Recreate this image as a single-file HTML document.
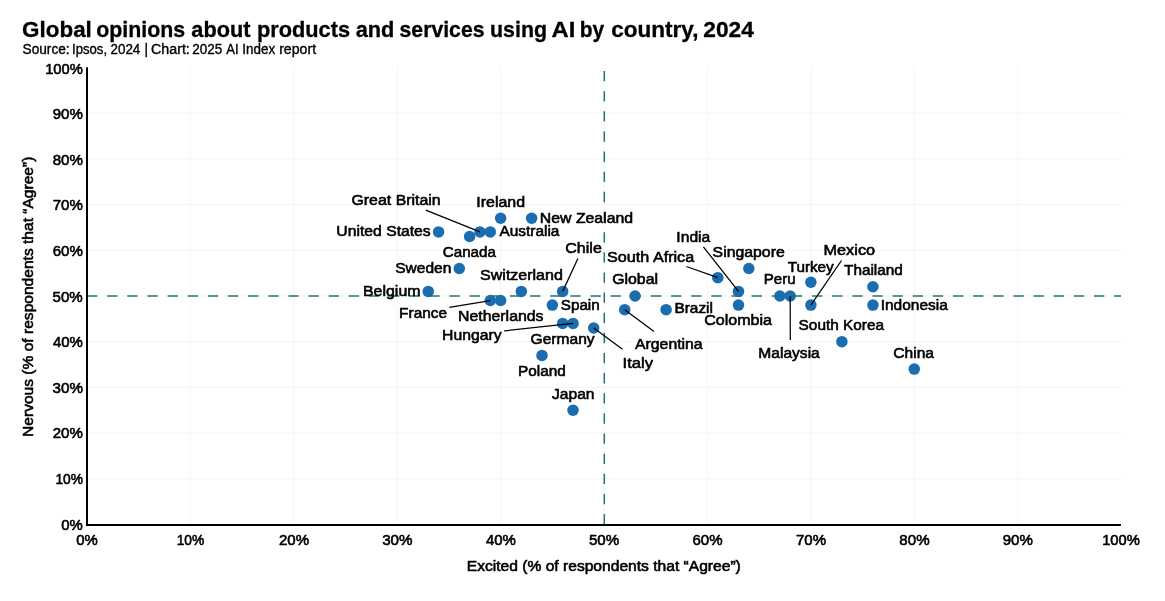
<!DOCTYPE html>
<html lang="en"><head><meta charset="utf-8">
<title>Global opinions about products and services using AI by country, 2024</title>
<style>
html,body{margin:0;padding:0;background:#fff;}
body{width:1165px;height:601px;overflow:hidden;}
svg{display:block;}
text{font-family:"Liberation Sans", Arial, Helvetica, sans-serif;fill:#000;stroke:#000;stroke-width:0.6px;stroke-linejoin:round;}
.lbl{font-size:15.3px;}
.tick{font-size:15.0px;}
</style></head><body>
<svg width="1165" height="601" viewBox="0 0 1165 601">
<rect x="0" y="0" width="1165" height="601" fill="#ffffff"/>
<text y="36.6" font-size="22.2" font-weight="bold" style="stroke-width:0.3px"><tspan x="22.11" textLength="69.74" lengthAdjust="spacingAndGlyphs">Global</tspan> <tspan x="96.3" textLength="88.88" lengthAdjust="spacingAndGlyphs">opinions</tspan> <tspan x="191.36" textLength="59.09" lengthAdjust="spacingAndGlyphs">about</tspan> <tspan x="256.96" textLength="93.08" lengthAdjust="spacingAndGlyphs">products</tspan> <tspan x="355.64" textLength="38.71" lengthAdjust="spacingAndGlyphs">and</tspan> <tspan x="399.55" textLength="84.93" lengthAdjust="spacingAndGlyphs">services</tspan> <tspan x="489.96" textLength="57.12" lengthAdjust="spacingAndGlyphs">using</tspan> <tspan x="551.52" textLength="23.81" lengthAdjust="spacingAndGlyphs">AI</tspan> <tspan x="579.79" textLength="24.43" lengthAdjust="spacingAndGlyphs">by</tspan> <tspan x="611.18" textLength="87.34" lengthAdjust="spacingAndGlyphs">country,</tspan> <tspan x="703.33" textLength="50.52" lengthAdjust="spacingAndGlyphs">2024</tspan></text>
<text y="54.4" font-size="13.8" style="stroke-width:0.35px"><tspan x="22.56" textLength="47.11" lengthAdjust="spacingAndGlyphs">Source:</tspan> <tspan x="72.0" textLength="35.05" lengthAdjust="spacingAndGlyphs">Ipsos,</tspan> <tspan x="110.53" textLength="29.79" lengthAdjust="spacingAndGlyphs">2024</tspan> <tspan x="144.4">|</tspan> <tspan x="150.96" textLength="38.89" lengthAdjust="spacingAndGlyphs">Chart:</tspan> <tspan x="192.31" textLength="29.97" lengthAdjust="spacingAndGlyphs">2025</tspan> <tspan x="226.27" textLength="12.35" lengthAdjust="spacingAndGlyphs">AI</tspan> <tspan x="242.3" textLength="32.87" lengthAdjust="spacingAndGlyphs">Index</tspan> <tspan x="279.15" textLength="36.97" lengthAdjust="spacingAndGlyphs">report</tspan></text>
<g stroke="#f4f4f4" stroke-width="1" fill="none">
<line x1="190.41" y1="67.3" x2="190.41" y2="525"/>
<line x1="87" y1="478.87" x2="1121" y2="478.87"/>
<line x1="293.82" y1="67.3" x2="293.82" y2="525"/>
<line x1="87" y1="433.14" x2="1121" y2="433.14"/>
<line x1="397.23" y1="67.3" x2="397.23" y2="525"/>
<line x1="87" y1="387.41" x2="1121" y2="387.41"/>
<line x1="500.64" y1="67.3" x2="500.64" y2="525"/>
<line x1="87" y1="341.68" x2="1121" y2="341.68"/>
<line x1="604.05" y1="67.3" x2="604.05" y2="525"/>
<line x1="87" y1="295.95" x2="1121" y2="295.95"/>
<line x1="707.46" y1="67.3" x2="707.46" y2="525"/>
<line x1="87" y1="250.22" x2="1121" y2="250.22"/>
<line x1="810.87" y1="67.3" x2="810.87" y2="525"/>
<line x1="87" y1="204.49" x2="1121" y2="204.49"/>
<line x1="914.28" y1="67.3" x2="914.28" y2="525"/>
<line x1="87" y1="158.76" x2="1121" y2="158.76"/>
<line x1="1017.69" y1="67.3" x2="1017.69" y2="525"/>
<line x1="87" y1="113.03" x2="1121" y2="113.03"/>
</g>
<g fill="#1b6db1">
<circle cx="438.59" cy="231.93" r="5.75"/>
<circle cx="469.62" cy="236.50" r="5.75"/>
<circle cx="479.96" cy="231.93" r="5.75"/>
<circle cx="490.30" cy="231.93" r="5.75"/>
<circle cx="500.64" cy="218.21" r="5.75"/>
<circle cx="531.66" cy="218.21" r="5.75"/>
<circle cx="459.28" cy="268.51" r="5.75"/>
<circle cx="428.25" cy="291.38" r="5.75"/>
<circle cx="490.30" cy="300.52" r="5.75"/>
<circle cx="500.64" cy="300.52" r="5.75"/>
<circle cx="521.32" cy="291.38" r="5.75"/>
<circle cx="562.69" cy="291.38" r="5.75"/>
<circle cx="552.35" cy="305.10" r="5.75"/>
<circle cx="562.69" cy="323.39" r="5.75"/>
<circle cx="573.03" cy="323.39" r="5.75"/>
<circle cx="593.71" cy="327.96" r="5.75"/>
<circle cx="542.00" cy="355.40" r="5.75"/>
<circle cx="573.03" cy="410.27" r="5.75"/>
<circle cx="635.07" cy="295.95" r="5.75"/>
<circle cx="624.73" cy="309.67" r="5.75"/>
<circle cx="666.10" cy="309.67" r="5.75"/>
<circle cx="717.80" cy="277.66" r="5.75"/>
<circle cx="738.48" cy="291.38" r="5.75"/>
<circle cx="738.48" cy="305.10" r="5.75"/>
<circle cx="748.82" cy="268.51" r="5.75"/>
<circle cx="779.85" cy="295.95" r="5.75"/>
<circle cx="790.19" cy="295.95" r="5.75"/>
<circle cx="810.87" cy="282.23" r="5.75"/>
<circle cx="810.87" cy="305.10" r="5.75"/>
<circle cx="872.92" cy="286.80" r="5.75"/>
<circle cx="872.92" cy="305.10" r="5.75"/>
<circle cx="841.89" cy="341.68" r="5.75"/>
<circle cx="914.28" cy="369.12" r="5.75"/>
</g>
<g stroke="#25727a" stroke-width="1.5" fill="none" stroke-dasharray="10.3 9.84">
<line x1="87" y1="296.0" x2="1121" y2="296.0" stroke-width="1.4"/>
<line x1="604.3" y1="524.4" x2="604.3" y2="67.3"/>
</g>
<g stroke="#000" stroke-width="1.25" fill="none">
<line x1="425.8" y1="210.2" x2="479.96" y2="231.93"/>
<line x1="449.3" y1="307.4" x2="490.30" y2="300.52"/>
<line x1="504.2" y1="330.9" x2="573.03" y2="323.39"/>
<line x1="577.9" y1="258.5" x2="562.69" y2="291.38"/>
<line x1="622.5" y1="349.3" x2="593.71" y2="327.96"/>
<line x1="654.0" y1="331.4" x2="624.73" y2="309.67"/>
<line x1="686.4" y1="266.5" x2="717.80" y2="277.66"/>
<line x1="703.4" y1="246.9" x2="738.48" y2="291.38"/>
<line x1="790.3" y1="340.0" x2="790.19" y2="295.95"/>
<line x1="841.5" y1="260.5" x2="810.87" y2="305.10"/>
</g>
<g stroke="#000" stroke-width="2" fill="none">
<line x1="87" y1="67.3" x2="87" y2="526"/>
<line x1="86" y1="525" x2="1120.9" y2="525"/>
</g>
<g class="tick">
<text x="61.34" y="529.65" textLength="21.51" lengthAdjust="spacingAndGlyphs">0%</text>
<text x="76.34" y="544.9" textLength="21.51" lengthAdjust="spacingAndGlyphs">0%</text>
<text x="55.39" y="484.05" textLength="27.59" lengthAdjust="spacingAndGlyphs">10%</text>
<text x="176.65" y="544.9" textLength="27.59" lengthAdjust="spacingAndGlyphs">10%</text>
<text x="52.77" y="438.44" textLength="30.07" lengthAdjust="spacingAndGlyphs">20%</text>
<text x="278.94" y="544.9" textLength="30.07" lengthAdjust="spacingAndGlyphs">20%</text>
<text x="52.57" y="392.84" textLength="30.37" lengthAdjust="spacingAndGlyphs">30%</text>
<text x="382.15" y="544.9" textLength="30.37" lengthAdjust="spacingAndGlyphs">30%</text>
<text x="52.95" y="347.23" textLength="29.93" lengthAdjust="spacingAndGlyphs">40%</text>
<text x="485.94" y="544.9" textLength="29.93" lengthAdjust="spacingAndGlyphs">40%</text>
<text x="52.52" y="301.63" textLength="30.22" lengthAdjust="spacingAndGlyphs">50%</text>
<text x="588.92" y="544.9" textLength="30.22" lengthAdjust="spacingAndGlyphs">50%</text>
<text x="52.67" y="256.02" textLength="30.12" lengthAdjust="spacingAndGlyphs">60%</text>
<text x="692.48" y="544.9" textLength="30.12" lengthAdjust="spacingAndGlyphs">60%</text>
<text x="52.77" y="210.42" textLength="30.07" lengthAdjust="spacingAndGlyphs">70%</text>
<text x="795.99" y="544.9" textLength="30.07" lengthAdjust="spacingAndGlyphs">70%</text>
<text x="52.71" y="164.81" textLength="30.24" lengthAdjust="spacingAndGlyphs">80%</text>
<text x="899.34" y="544.9" textLength="30.24" lengthAdjust="spacingAndGlyphs">80%</text>
<text x="52.70" y="119.21" textLength="30.12" lengthAdjust="spacingAndGlyphs">90%</text>
<text x="1002.74" y="544.9" textLength="30.12" lengthAdjust="spacingAndGlyphs">90%</text>
<text x="45.14" y="73.60" textLength="37.61" lengthAdjust="spacingAndGlyphs">100%</text>
<text x="1102.14" y="544.9" textLength="37.61" lengthAdjust="spacingAndGlyphs">100%</text>
</g>
<text class="lbl" x="466.74" y="570.5" textLength="274.1" lengthAdjust="spacingAndGlyphs">Excited (% of respondents that “Agree”)</text>
<text class="lbl" transform="translate(33.4 435.9) rotate(-90)" x="-1.02" y="0" textLength="280.32" lengthAdjust="spacingAndGlyphs">Nervous (% of respondents that “Agree”)</text>
<g class="lbl">
<text x="351.46" y="204.8" textLength="89.26" lengthAdjust="spacingAndGlyphs">Great Britain</text>
<text x="476.28" y="207.1" textLength="48.8" lengthAdjust="spacingAndGlyphs">Ireland</text>
<text x="336.33" y="236.2" textLength="94.39" lengthAdjust="spacingAndGlyphs">United States</text>
<text x="442.8" y="256.8" textLength="53.11" lengthAdjust="spacingAndGlyphs">Canada</text>
<text x="395.16" y="272.8" textLength="56.16" lengthAdjust="spacingAndGlyphs">Sweden</text>
<text x="499.43" y="236.2" textLength="59.99" lengthAdjust="spacingAndGlyphs">Australia</text>
<text x="539.81" y="223.0" textLength="93.32" lengthAdjust="spacingAndGlyphs">New Zealand</text>
<text x="565.32" y="253.1" textLength="36.48" lengthAdjust="spacingAndGlyphs">Chile</text>
<text x="480.12" y="279.7" textLength="82.7" lengthAdjust="spacingAndGlyphs">Switzerland</text>
<text x="363.0" y="296.0" textLength="57.51" lengthAdjust="spacingAndGlyphs">Belgium</text>
<text x="399.13" y="317.8" textLength="47.91" lengthAdjust="spacingAndGlyphs">France</text>
<text x="458.03" y="321.1" textLength="85.51" lengthAdjust="spacingAndGlyphs">Netherlands</text>
<text x="442.04" y="340.1" textLength="59.5" lengthAdjust="spacingAndGlyphs">Hungary</text>
<text x="560.82" y="309.7" textLength="38.9" lengthAdjust="spacingAndGlyphs">Spain</text>
<text x="530.62" y="343.6" textLength="64.01" lengthAdjust="spacingAndGlyphs">Germany</text>
<text x="518.09" y="376.1" textLength="47.82" lengthAdjust="spacingAndGlyphs">Poland</text>
<text x="552.07" y="399.3" textLength="42.47" lengthAdjust="spacingAndGlyphs">Japan</text>
<text x="622.53" y="368.1" textLength="30.48" lengthAdjust="spacingAndGlyphs">Italy</text>
<text x="635.02" y="349.1" textLength="67.63" lengthAdjust="spacingAndGlyphs">Argentina</text>
<text x="612.17" y="284.0" textLength="45.87" lengthAdjust="spacingAndGlyphs">Global</text>
<text x="674.4" y="313.4" textLength="38.56" lengthAdjust="spacingAndGlyphs">Brazil</text>
<text x="607.11" y="261.8" textLength="87.03" lengthAdjust="spacingAndGlyphs">South Africa</text>
<text x="676.38" y="242.2" textLength="33.9" lengthAdjust="spacingAndGlyphs">India</text>
<text x="712.6" y="257.1" textLength="72.13" lengthAdjust="spacingAndGlyphs">Singapore</text>
<text x="704.24" y="325.2" textLength="67.7" lengthAdjust="spacingAndGlyphs">Colombia</text>
<text x="763.82" y="284.0" textLength="31.84" lengthAdjust="spacingAndGlyphs">Peru</text>
<text x="758.37" y="357.9" textLength="61.39" lengthAdjust="spacingAndGlyphs">Malaysia</text>
<text x="787.64" y="271.6" textLength="46.12" lengthAdjust="spacingAndGlyphs">Turkey</text>
<text x="823.51" y="255.1" textLength="51.59" lengthAdjust="spacingAndGlyphs">Mexico</text>
<text x="844.02" y="275.4" textLength="58.79" lengthAdjust="spacingAndGlyphs">Thailand</text>
<text x="880.71" y="310.2" textLength="67.1" lengthAdjust="spacingAndGlyphs">Indonesia</text>
<text x="798.61" y="330.0" textLength="85.35" lengthAdjust="spacingAndGlyphs">South Korea</text>
<text x="893.37" y="358.1" textLength="40.65" lengthAdjust="spacingAndGlyphs">China</text>
</g>
</svg></body></html>
